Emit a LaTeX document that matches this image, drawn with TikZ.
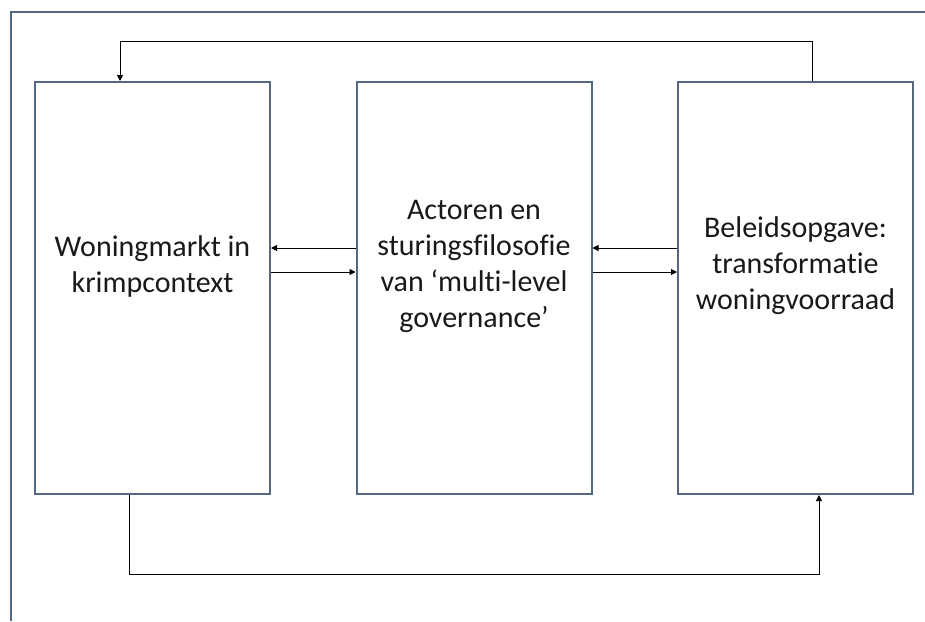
\documentclass[tikz,border=0pt]{standalone}
\usepackage{fontspec}
\setmainfont{Carlito}[Ligatures=NoCommon]
\usepackage{xcolor}
\usepackage{tikz}
\usetikzlibrary{arrows.meta}
\definecolor{rand}{RGB}{84,104,130}
\definecolor{tekstkleur}{RGB}{25,25,25}

\begin{document}
\begin{tikzpicture}[x=1pt,y=-1pt,
		blok/.style={draw=rand, line width=2pt, minimum width=235pt, minimum height=412pt},
		tekst/.style={text=tekstkleur, align=center, font=\fontsize{30}{36}\selectfont},
		pijl/.style={draw=black, line width=0.9pt, -{Triangle[width=6pt,length=6pt]}}]
				\useasboundingbox (0,0) rectangle (925,621);
				\draw[rand, line width=2pt] (11,621) -- (11,12) -- (925,12);
				
				\node (markt) [blok] at (152.5,288) {};
				\node (actoren) [blok] at (474,288) {};
				\node (beleid) [blok] at (795.5,288) {};
				
				\node (marktTekst) [tekst] at ([yshift=22pt]markt.center) {Woningmarkt in\\krimpcontext};
				\node (actorenTekst) [tekst] at ([yshift=22pt]actoren.center) {Actoren en\\sturingsfilosofie\\van ‘multi-level\\governance’};
				\node (beleidTekst) [tekst] at ([yshift=22pt]beleid.center) {Beleidsopgave:\\transformatie\\woningvoorraad};
				
				\draw [pijl] ([yshift=40pt]actoren.west) -- ([yshift=40pt]markt.east);
				\draw [pijl] ([yshift=16pt]markt.east) -- ([yshift=16pt]actoren.west);
				\draw [pijl] ([yshift=40pt]beleid.west) -- ([yshift=40pt]actoren.east);
				\draw [pijl] ([yshift=16pt]actoren.east) -- ([yshift=16pt]beleid.west);
				
				\draw [pijl] ([xshift=16.5pt]beleid.north) |- ([xshift=-32.5pt,yshift=40pt]markt.north) -- ([xshift=-32.5pt]markt.north);
				\draw [pijl] ([xshift=-23.5pt]markt.south) |- ([xshift=23.5pt,yshift=-79pt]beleid.south) -- ([xshift=23.5pt]beleid.south);
			\end{tikzpicture}
\end{document}
